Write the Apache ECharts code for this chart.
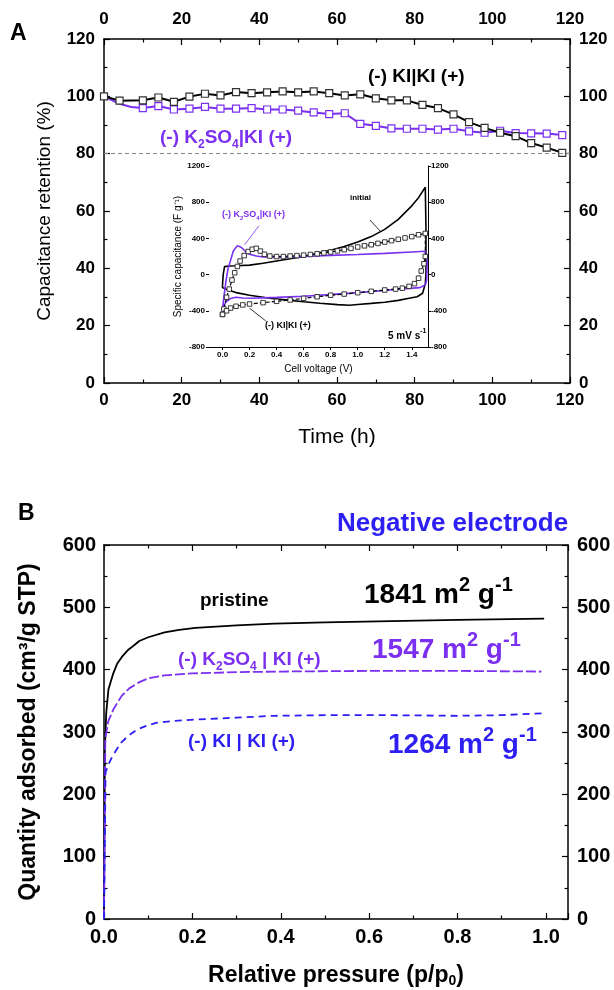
<!DOCTYPE html>
<html><head><meta charset="utf-8">
<script src="https://cdn.jsdelivr.net/npm/echarts@6/dist/echarts.min.js"></script>
<style>html,body{margin:0;padding:0;background:#fff}#c{width:614px;height:990px}</style>
</head><body><div id="c"></div>
<script>
// ---------- Panel A data ----------
const timeKIKI = [0,4,10,14,18,22,26,30,34,38,42,46,50,54,58,62,66,70,74,78,82,86,90,94,98,102,106,110,114,118];
const retentionKIKI = [100,98.5,98.6,99.6,98.1,99.9,100.9,100.3,101.5,101.1,101.4,101.7,101.4,101.7,101.1,100.3,100.7,99.3,98.6,98.6,97.0,95.9,93.7,91.0,89.0,87.3,86.1,83.7,82.1,80.3];
const timeK2SO4 = [0,4,7,10,14,18,22,26,30,34,38,42,46,50,54,58,62,66,70,74,78,82,86,90,94,98,102,106,110,114,118];
const retentionK2SO4 = [100,97.4,96.3,95.9,96.6,95.4,95.7,96.3,95.7,95.7,95.9,95.4,95.4,95.0,94.4,93.8,94.1,90.4,89.7,88.8,88.7,88.7,88.4,88.7,87.8,87.3,88.0,87.2,87.1,87.0,86.5];
const k2so4MarkerFrom = 3; // first points are line-only
const retentionLimit = 80;

// ---------- Inset (CV) data ----------
const initialV = [0,0.005,0.015,0.05,0.1,0.2,0.3,0.4,0.5,0.6,0.7,0.8,0.9,1.0,1.1,1.2,1.3,1.4,1.45,1.5,1.505,1.505,1.5,1.48,1.44,1.38,1.3,1.2,1.1,1.0,0.94,0.85,0.72,0.6,0.5,0.35,0.2,0.1,0.04,0,0];
const initialC = [-114,0,88,95,97,105,125,150,175,200,235,270,310,360,420,500,610,760,850,965,500,0,-100,-206,-245,-262,-285,-305,-318,-330,-338,-332,-317,-300,-285,-262,-228,-199,-170,-144,-114];
const k2so4V = [0,0.01,0.025,0.04,0.06,0.08,0.11,0.14,0.17,0.2,0.25,0.3,0.4,0.6,0.8,1.0,1.2,1.4,1.5,1.51,1.515,1.51,1.5,1.46,1.33,1.2,1.09,0.9,0.6,0.4,0.22,0.15,0.1,0.06,0.026,0.01,0];
const k2so4C = [-385,-250,-77,60,160,260,320,300,255,225,205,195,190,200,212,222,235,250,258,258,150,-60,-114,-144,-158,-175,-190,-210,-240,-252,-262,-258,-250,-265,-300,-350,-385];
const kikiV = [0,0.01,0.03,0.05,0.07,0.09,0.11,0.13,0.16,0.19,0.22,0.25,0.28,0.31,0.35,0.4,0.45,0.5,0.55,0.6,0.65,0.7,0.75,0.8,0.85,0.9,0.95,1.0,1.05,1.1,1.15,1.2,1.25,1.3,1.35,1.4,1.45,1.5,1.5,1.49,1.47,1.45,1.42,1.38,1.33,1.28,1.2,1.1,1.0,0.9,0.8,0.7,0.6,0.5,0.4,0.3,0.2,0.15,0.1,0.06,0.03,0];
const kikiC = [-440,-380,-250,-160,-60,20,90,150,210,255,280,290,260,225,205,200,200,205,210,215,222,230,240,250,262,275,290,305,318,330,345,360,375,390,405,420,440,455,200,120,40,-40,-100,-130,-150,-160,-170,-185,-200,-215,-228,-245,-262,-280,-295,-310,-325,-335,-350,-370,-400,-440];

// ---------- Panel B data ----------
const pristineP = [0,0.002,0.005,0.01,0.02,0.03,0.04,0.055,0.066,0.08,0.1,0.137,0.17,0.207,0.3,0.385,0.5,0.65,0.8,0.996];
const pristineQ = [0,272,330,368,392,410,420,432,438,446,452,460,464,467,471,474,476,478,480,482];
const k2so4P = [0,0.003,0.01,0.021,0.04,0.057,0.08,0.1,0.137,0.2,0.3,0.4,0.6,0.8,0.99];
const k2so4Q = [0,290,318,336,358,370,380,386,391,394,396,397,398,398,397];
const kikiP = [0,0.0035,0.01,0.017,0.025,0.039,0.055,0.075,0.1,0.12,0.16,0.207,0.3,0.385,0.5,0.65,0.8,0.9,0.99];
const kikiQ = [0,235,248,258,268,283,294,304,311,315,318,320,323,326,327,327,326,327,330];

const FONT = 'Liberation Sans, Arial, sans-serif';
const PURPLE = '#7b2ff0';
const BLUE = '#2d1ff2';

const zip = (a,b) => a.map((v,i)=>[v,b[i]]);

function ax(o){
  return Object.assign({
    type:'value', nameLocation:'middle',
    axisLine:{show:true,onZero:false,lineStyle:{color:'#000',width:1.5}},
    axisTick:{show:true,inside:true,length:6,lineStyle:{color:'#000',width:1.2}},
    minorTick:{show:true,splitNumber:2,length:3.5,lineStyle:{color:'#000',width:1.2}},
    splitLine:{show:false}, minorSplitLine:{show:false},
    axisLabel:{show:true,color:'#000',fontFamily:FONT,fontWeight:'bold',fontSize:17,margin:9}
  }, o);
}

const k2so4Data = zip(timeK2SO4, retentionK2SO4).map((d,i)=> i<k2so4MarkerFrom ? {value:d, symbol:'none'} : d);
const insetTicks = [0,0.2,0.4,0.6,0.8,1.0,1.2,1.4];

function richLabel(parts, color, size, lh){
  return {rich:{
    a:{fontFamily:FONT,fontSize:size,fontWeight:'bold',color:color,lineHeight:lh,verticalAlign:'bottom'},
    s:{fontFamily:FONT,fontSize:Math.round(size*0.65),fontWeight:'bold',color:color,verticalAlign:'bottom',lineHeight:lh,padding:[0,0,-Math.round(size*0.2),0]}
  }};
}
function areaLabel(color){
  return {rich:{
    a:{fontFamily:FONT,fontSize:28,fontWeight:'bold',color:color,lineHeight:34,verticalAlign:'bottom'},
    s:{fontFamily:FONT,fontSize:20,fontWeight:'bold',color:color,lineHeight:34,verticalAlign:'top'}
  }};
}

const option = {
  animation:false,
  backgroundColor:'#fff',
  grid:[
    {left:104, top:39, width:466, height:344},
    {left:104, top:545, width:464, height:374},
    {left:209, top:166, width:219, height:181, show:true, backgroundColor:'#fff', borderWidth:0, z:5}
  ],
  xAxis:[
    ax({gridIndex:0, position:'bottom', min:0, max:120, interval:20,
        name:'Time (h)', nameGap:44, nameTextStyle:{fontFamily:FONT,fontSize:21,color:'#000'},
        axisLabel:{color:'#000',fontFamily:FONT,fontWeight:'bold',fontSize:17,margin:9}}),
    ax({gridIndex:0, position:'top', min:0, max:120, interval:20,
        axisLabel:{color:'#000',fontFamily:FONT,fontWeight:'bold',fontSize:17,margin:11}}),
    ax({gridIndex:1, position:'bottom', min:0, max:1.05, interval:0.2,
        axisLabel:{color:'#000',fontFamily:FONT,fontWeight:'bold',fontSize:20,margin:8,formatter:v=>v.toFixed(1)},
        name:'Relative pressure (p/p{s|0})', nameGap:45,
        nameTextStyle:{fontFamily:FONT,fontSize:23,fontWeight:'bold',color:'#000',
          rich:{s:{fontFamily:FONT,fontSize:14,fontWeight:'bold',color:'#000',verticalAlign:'bottom',padding:[10,0,0,0]}}}}),
    ax({gridIndex:1, position:'top', min:0, max:1.05, interval:0.2, axisLabel:{show:false}}),
    ax({gridIndex:2, position:'bottom', min:-0.1, max:1.52,
        axisTick:{show:true,inside:false,length:3,lineStyle:{color:'#000',width:1},customValues:insetTicks},
        minorTick:{show:false},
        axisLine:{show:true,onZero:false,lineStyle:{color:'#000',width:1}},
        axisLabel:{show:true,color:'#000',fontFamily:FONT,fontWeight:'bold',fontSize:8,margin:4,customValues:insetTicks,formatter:v=>v.toFixed(1)},
        name:'Cell voltage (V)', nameGap:17, nameTextStyle:{fontFamily:FONT,fontSize:10,color:'#000'}}),
    ax({gridIndex:2, position:'top', min:-0.1, max:1.52,
        axisTick:{show:false}, minorTick:{show:false}, axisLabel:{show:false},
        axisLine:{show:true,onZero:false,lineStyle:{color:'#000',width:1}}})
  ],
  yAxis:[
    ax({gridIndex:0, position:'left', min:0, max:120, interval:20,
        name:'Capacitance retention (%)', nameGap:50, nameTextStyle:{fontFamily:FONT,fontSize:19,color:'#000'}}),
    ax({gridIndex:0, position:'right', min:0, max:120, interval:20}),
    ax({gridIndex:1, position:'left', min:0, max:600, interval:100,
        axisLabel:{color:'#000',fontFamily:FONT,fontWeight:'bold',fontSize:20,margin:8},
        name:'Quantity adsorbed (cm³/g STP)', nameGap:64,
        nameTextStyle:{fontFamily:FONT,fontSize:23,fontWeight:'bold',color:'#000'}}),
    ax({gridIndex:1, position:'right', min:0, max:600, interval:100,
        axisLabel:{color:'#000',fontFamily:FONT,fontWeight:'bold',fontSize:20,margin:9}}),
    ax({gridIndex:2, position:'left', min:-800, max:1200, interval:400,
        axisTick:{show:true,inside:false,length:3,lineStyle:{color:'#000',width:1}}, minorTick:{show:false},
        axisLine:{show:true,onZero:false,lineStyle:{color:'#000',width:1}},
        axisLabel:{color:'#000',fontFamily:FONT,fontWeight:'bold',fontSize:8,margin:4,formatter:v=>String(v)},
        name:'Specific capacitance (F g⁻¹)', nameGap:22, nameTextStyle:{fontFamily:FONT,fontSize:10,color:'#000'}}),
    ax({gridIndex:2, position:'right', min:-800, max:1200, interval:400,
        axisTick:{show:true,inside:false,length:3,lineStyle:{color:'#000',width:1}}, minorTick:{show:false},
        axisLine:{show:true,onZero:false,lineStyle:{color:'#000',width:1}},
        axisLabel:{color:'#000',fontFamily:FONT,fontWeight:'bold',fontSize:8,margin:3,formatter:v=>String(v)}})
  ],
  series:[
    {type:'line', xAxisIndex:0, yAxisIndex:0, data:k2so4Data, symbol:'rect', symbolSize:7,
     lineStyle:{color:PURPLE,width:2}, itemStyle:{color:'#fff',borderColor:PURPLE,borderWidth:1.2}, z:3,
     markLine:{silent:true, symbol:'none', label:{show:false}, lineStyle:{color:'#888',type:[4,3],width:1},
       data:[[{coord:[0,retentionLimit]},{coord:[120,retentionLimit]}]]}},
    {type:'line', xAxisIndex:0, yAxisIndex:0, data:zip(timeKIKI, retentionKIKI), symbol:'rect', symbolSize:7,
     lineStyle:{color:'#000',width:2}, itemStyle:{color:'#fff',borderColor:'#333',borderWidth:1.2}, z:4},
    // inset
    {type:'line', xAxisIndex:4, yAxisIndex:4, data:zip(initialV, initialC), symbol:'none',
     lineStyle:{color:'#000',width:1.6}, z:6,
     markLine:{silent:true, symbol:['none','arrow'], symbolSize:[0,6], label:{show:false}, lineStyle:{color:'#000',width:0.8,type:'solid'},
       data:[[{coord:[1.09,604]},{coord:[1.17,475]}],[{coord:[0.32,-512]},{coord:[0.2,-372]}]]}},
    {type:'line', xAxisIndex:4, yAxisIndex:4, data:zip(k2so4V, k2so4C), symbol:'none',
     lineStyle:{color:PURPLE,width:1.6}, z:6,
     markLine:{silent:true, symbol:'none', label:{show:false}, lineStyle:{color:PURPLE,width:0.8,type:'solid'},
       data:[[{coord:[0.27,541]},{coord:[0.163,328]}]]}},
    {type:'line', xAxisIndex:4, yAxisIndex:4, data:zip(kikiV, kikiC), symbol:'rect', symbolSize:4.5,
     lineStyle:{color:'#000',width:1.2,type:[4,2]}, itemStyle:{color:'#fff',borderColor:'#222',borderWidth:0.9}, z:7},
    // panel B
    {type:'line', xAxisIndex:2, yAxisIndex:2, data:zip(pristineP, pristineQ), symbol:'none',
     lineStyle:{color:'#000',width:1.8}, z:3},
    {type:'line', xAxisIndex:2, yAxisIndex:2, data:zip(k2so4P, k2so4Q), symbol:'none',
     lineStyle:{color:PURPLE,width:1.8,type:[10,3]}, z:4},
    {type:'line', xAxisIndex:2, yAxisIndex:2, data:zip(kikiP, kikiQ), symbol:'none',
     lineStyle:{color:BLUE,width:1.8,type:[7,5]}, z:5}
  ],
  title:[
    {text:'A', left:10, top:22, padding:0, textStyle:{fontFamily:FONT,fontSize:23,fontWeight:'bold',color:'#000'}},
    {text:'B', left:18, top:502, padding:0, textStyle:{fontFamily:FONT,fontSize:23,fontWeight:'bold',color:'#000'}},
    {text:'(-) KI|KI (+)', left:368, top:67, padding:0, textStyle:{fontFamily:FONT,fontSize:19,fontWeight:'bold',color:'#000'}},
    {text:'{a|(-) K}{s|2}{a|SO}{s|4}{a||KI (+)}', left:160, top:122, padding:0, textStyle:richLabel(null,PURPLE,19,25)},
    {text:'initial', left:350, top:194, padding:0, z:10, textStyle:{fontFamily:FONT,fontSize:8,fontWeight:'bold',color:'#000'}},
    {text:'{a|(-) K}{s|2}{a|SO}{s|4}{a||KI (+)}', left:222, top:207, padding:0, z:10, textStyle:richLabel(null,PURPLE,9,12)},
    {text:'(-) KI|KI (+)', left:265, top:321, padding:0, z:10, textStyle:{fontFamily:FONT,fontSize:9,fontWeight:'bold',color:'#000'}},
    {text:'{a|5 mV s}{s|-1}', left:388, top:328, padding:0, z:10,
     textStyle:{rich:{a:{fontFamily:FONT,fontSize:10,color:'#000',lineHeight:13,verticalAlign:'bottom'},
                      s:{fontFamily:FONT,fontSize:7,color:'#000',verticalAlign:'top',lineHeight:13}}}},
    {text:'Negative electrode', left:337, top:511, padding:0, textStyle:{fontFamily:FONT,fontSize:26,fontWeight:'bold',color:BLUE}},
    {text:'pristine', left:200, top:591, padding:0, textStyle:{fontFamily:FONT,fontSize:19,fontWeight:'bold',color:'#000'}},
    {text:'{a|1841 m}{s|2}{a| g}{s|-1}', left:364, top:575, padding:0, textStyle:areaLabel('#000')},
    {text:'{a|(-) K}{s|2}{a|SO}{s|4}{a| | KI (+)}', left:178, top:644, padding:0, textStyle:richLabel(null,PURPLE,19,25)},
    {text:'{a|1547 m}{s|2}{a| g}{s|-1}', left:372, top:630, padding:0, textStyle:areaLabel(PURPLE)},
    {text:'(-) KI | KI (+)', left:188, top:732, padding:0, textStyle:{fontFamily:FONT,fontSize:19,fontWeight:'bold',color:BLUE}},
    {text:'{a|1264 m}{s|2}{a| g}{s|-1}', left:388, top:725, padding:0, textStyle:areaLabel(BLUE)}
  ]
};
const chart = echarts.init(document.getElementById('c'), null, {renderer:'canvas'});
chart.setOption(option);
</script>
</body></html>
